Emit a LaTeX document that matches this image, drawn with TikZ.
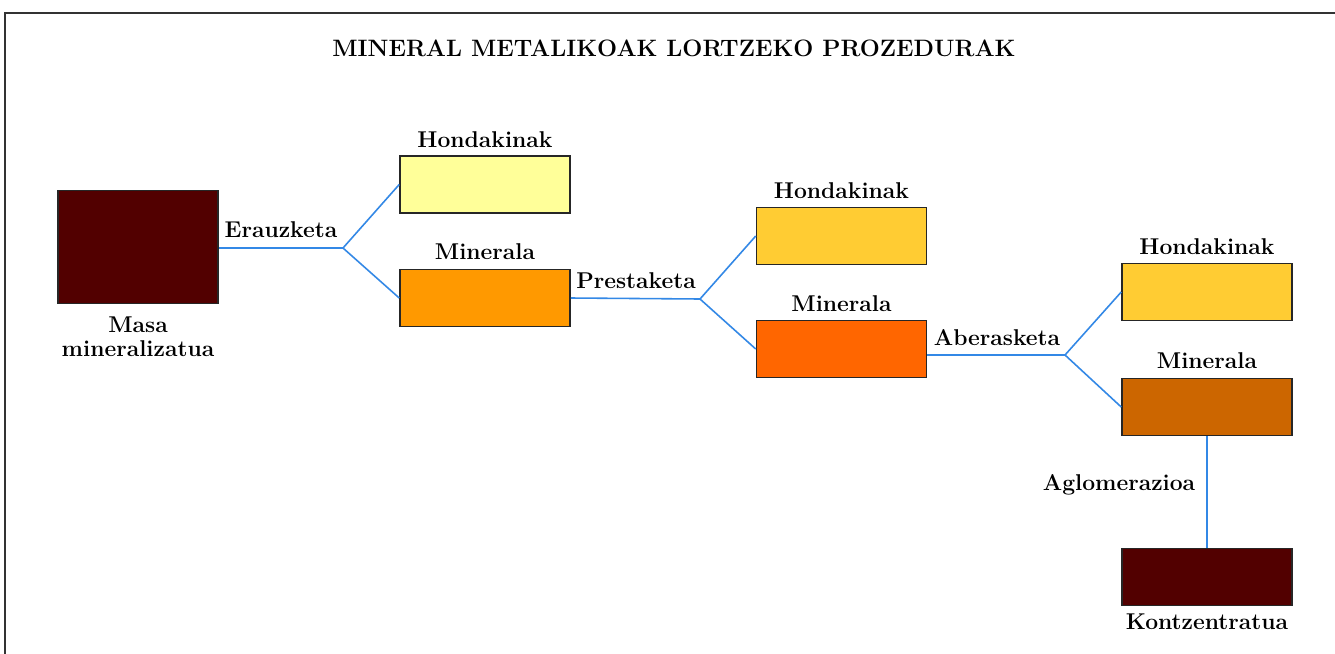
\documentclass[tikz,border=0pt]{standalone}
\usepackage{tikz}
\definecolor{mymaroon}{RGB}{82,0,0}
\definecolor{mypale}{RGB}{255,255,153}
\definecolor{myorange}{RGB}{255,153,0}
\definecolor{mygold}{RGB}{255,204,51}
\definecolor{myred}{RGB}{255,102,0}
\definecolor{mybrown}{RGB}{204,102,0}
\definecolor{myline}{RGB}{51,136,230}

\begin{document}
\begin{tikzpicture}[x=0.02cm, y=-0.02cm,
    box/.style={draw=black!85, line width=0.9pt, minimum width=3.4cm, minimum height=1.14cm, inner sep=0pt},
    txt/.style={font=\fontsize{13}{15}\selectfont\bfseries, inner sep=0pt},
    link/.style={myline, line width=0.9pt}]
  % Page and frame
  \clip (0,0) rectangle (1335,653);
  \fill[white] (0,0) rectangle (1335,653);
  \draw[line width=1pt, black!80] (5,13) rectangle (1345,670);

  % Title
  \node[font=\fontsize{13.5}{16}\selectfont\bfseries] (title) at (674,48) {MINERAL METALIKOAK LORTZEKO PROZEDURAK};

  % Boxes
  \node[box, fill=mymaroon, minimum width=3.2cm, minimum height=2.26cm] (masa) at (138,247) {};
  \node[box, fill=mypale] (h1) at (485,184.5) {};
  \node[box, fill=myorange] (m1) at (485,298) {};
  \node[box, fill=mygold] (h2) at (841.5,236) {};
  \node[box, fill=myred] (m2) at (841.5,349) {};
  \node[box, fill=mygold] (h3) at (1207,292) {};
  \node[box, fill=mybrown] (m3) at (1207,407) {};
  \node[box, fill=mymaroon] (kon) at (1207,577) {};

  % Box labels
  \node[txt] (masaA) at (138,325) {Masa};
  \node[txt] (masaB) at (138,349) {mineralizatua};
  \node[txt] (h1t) at (485,140) {Hondakinak};
  \node[txt] (m1t) at (485,252) {Minerala};
  \node[txt] (h2t) at (841.5,191) {Hondakinak};
  \node[txt] (m2t) at (841.5,304) {Minerala};
  \node[txt] (h3t) at (1207,247) {Hondakinak};
  \node[txt] (m3t) at (1207,361) {Minerala};
  \node[txt] (kont) at (1207,622) {Kontzentratua};

  % Branch points
  \coordinate (b1) at (343,248);
  \coordinate (b2) at (700,299);
  \coordinate (b3) at (1065,355);

  % Connectors
  \draw[link] (masa.east |- b1) -- (b1);
  \draw[link] (b1) -- (h1.west);
  \draw[link] (b1) -- (m1.west);
  \draw[link] (m1.east) -- (b2);
  \draw[link] (b2) -- (h2.west);
  \draw[link] (b2) -- (m2.west);
  \draw[link] (m2.east |- b3) -- (b3);
  \draw[link] (b3) -- (h3.west);
  \draw[link] (b3) -- (m3.west);
  \draw[link] (m3.south) -- (kon.north);

  % Step labels
  \node[txt] (erauz) at (281,230) {Erauzketa};
  \node[txt] (prest) at (636,281) {Prestaketa};
  \node[txt] (aberas) at (997,338) {Aberasketa};
  \node[txt] (aglom) at (1119,485) {Aglomerazioa};
\end{tikzpicture}
\end{document}
